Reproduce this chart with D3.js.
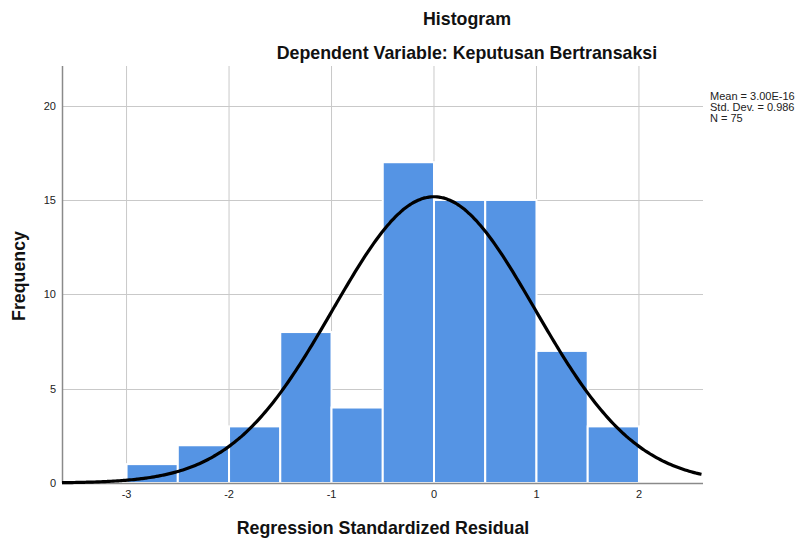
<!DOCTYPE html>
<html><head><meta charset="utf-8">
<script src="https://cdn.jsdelivr.net/npm/d3@7"></script>
<style>body{margin:0;background:#fff;}text{font-family:"Liberation Sans",Arial,sans-serif;}</style>
</head><body>
<svg id="c" width="806" height="541"></svg>
<script>
const binStarts = [-3, -2.5, -2, -1.5, -1, -0.5, 0, 0.5, 1, 1.5];
const counts = [1, 2, 3, 8, 4, 17, 15, 15, 7, 3];
const binWidth = 0.5;
const xTicks = [-3, -2, -1, 0, 1, 2];
const yTicks = [0, 5, 10, 15, 20];
const stats = {mean: 3.00e-16, sd: 0.986, n: 75};
const legendLines = ["Mean = 3.00E-16", "Std. Dev. = 0.986", "N = 75"];

const svg = d3.select("#c");
const L = 62, R = 703, T = 66, B = 483;
const x = d3.scaleLinear().domain([-3.63, 2.625]).range([L, R]);
const y = d3.scaleLinear().domain([0, 22.1]).range([B, T]);

// grid
svg.append("g").selectAll("line").data(xTicks).join("line")
  .attr("x1", d => x(d)).attr("x2", d => x(d)).attr("y1", T).attr("y2", B)
  .attr("stroke", "#c9c9c9").attr("stroke-width", 1);
svg.append("g").selectAll("line").data(yTicks.filter(d => d > 0)).join("line")
  .attr("x1", L).attr("x2", R).attr("y1", d => Math.round(y(d)) + 0.5).attr("y2", d => Math.round(y(d)) + 0.5)
  .attr("stroke", "#c9c9c9").attr("stroke-width", 1);

// bars
svg.append("g").selectAll("rect").data(binStarts.map((s, i) => ({s, c: counts[i]}))).join("rect")
  .attr("x", d => x(d.s)).attr("width", d => x(d.s + binWidth) - x(d.s))
  .attr("y", d => y(d.c)).attr("height", d => y(0) - y(d.c))
  .attr("fill", "#5594e4").attr("stroke", "#ffffff").attr("stroke-width", 2);

// axes lines
svg.append("line").attr("x1", L + 0.5).attr("x2", L + 0.5).attr("y1", T).attr("y2", B)
  .attr("stroke", "#8a8a8a").attr("stroke-width", 1.5);
svg.append("line").attr("x1", L).attr("x2", R).attr("y1", B + 0.5).attr("y2", B + 0.5)
  .attr("stroke", "#8a8a8a").attr("stroke-width", 1.5);

// tick labels
svg.append("g").selectAll("text").data(xTicks).join("text")
  .attr("x", d => x(d)).attr("y", 498).attr("text-anchor", "middle")
  .attr("font-size", 11).attr("fill", "#222").text(d => d);
svg.append("g").selectAll("text").data(yTicks).join("text")
  .attr("x", 56).attr("y", d => y(d) + 4).attr("text-anchor", "end")
  .attr("font-size", 11).attr("fill", "#222").text(d => d);

// normal curve from stats
const pdf = v => Math.exp(-0.5 * Math.pow((v - stats.mean) / stats.sd, 2)) / (stats.sd * Math.sqrt(2 * Math.PI));
const xs = d3.range(x.domain()[0], x.domain()[1] + 0.001, 0.02);
svg.append("path").datum(xs)
  .attr("d", d3.line().x(v => x(v)).y(v => y(stats.n * binWidth * pdf(v))).curve(d3.curveBasis))
  .attr("fill", "none").attr("stroke", "#000").attr("stroke-width", 3.2);

// titles
svg.append("text").attr("x", 467).attr("y", 25).attr("text-anchor", "middle")
  .attr("font-size", 17.8).attr("font-weight", "bold").attr("fill", "#111").text("Histogram");
svg.append("text").attr("x", 467).attr("y", 59).attr("text-anchor", "middle")
  .attr("font-size", 17.8).attr("font-weight", "bold").attr("fill", "#111").text("Dependent Variable: Keputusan Bertransaksi");
svg.append("text").attr("x", 383).attr("y", 534).attr("text-anchor", "middle")
  .attr("font-size", 17.8).attr("font-weight", "bold").attr("fill", "#111").text("Regression Standardized Residual");
svg.append("text").attr("transform", "translate(25,276) rotate(-90)").attr("text-anchor", "middle")
  .attr("font-size", 17.8).attr("font-weight", "bold").attr("fill", "#111").text("Frequency");

// legend
svg.append("g").selectAll("text").data(legendLines).join("text")
  .attr("x", 710).attr("y", (d, i) => 100 + i * 11).attr("font-size", 11).attr("fill", "#222").text(d => d);
</script>
</body></html>
